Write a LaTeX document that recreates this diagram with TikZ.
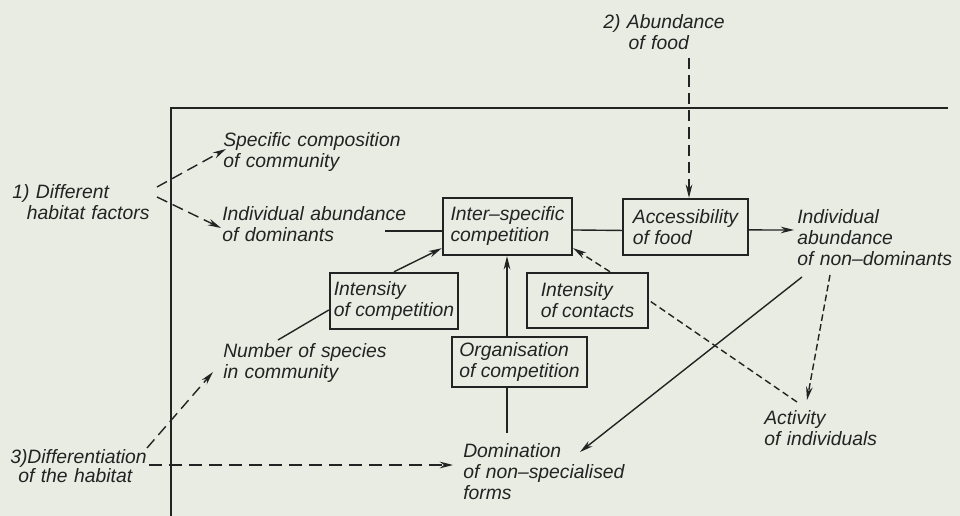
\documentclass[tikz,border=0pt]{standalone}
\usepackage{fontspec}
\setmainfont{Liberation Sans}
\usetikzlibrary{arrows.meta}
\definecolor{bgc}{HTML}{E8ECE2}
\definecolor{ink}{HTML}{232323}
\begin{document}
\begin{tikzpicture}[x=0.75pt,y=-0.75pt,
  lbl/.style={anchor=base west, inner sep=0pt, text width=200pt, align=left,
    font=\itshape\fontsize{14.5}{15.75}\selectfont, text=ink},
  box/.style={draw=ink, line width=1.8pt, align=left, inner sep=0pt,
    font=\itshape\fontsize{14.5}{15.75}\selectfont, text=ink},
  frame/.style={draw=ink, line width=1.2pt},
  con/.style={draw=ink, line width=1.05pt},
  tip/.style={-{Stealth[length=10pt,width=5pt]}},
  ldash/.style={dash pattern=on 8.5pt off 4.5pt},
  hdash/.style={dash pattern=on 10pt off 5pt},
  sdash/.style={dash pattern=on 5pt off 3pt},
  ndash/.style={dash pattern=on 5pt off 2.5pt},
]
\fill[bgc] (0,0) rectangle (960,516);
\useasboundingbox (0,0) rectangle (960,516);

% frame lines
\coordinate (tl) at (171,108);
\coordinate (tr) at (948,108);
\coordinate (bl) at (171,516);
\draw[frame] (tr) -- (tl) -- (bl);

% free texts
\node[lbl] (habit) at (12,199) {1) Different\\\hspace*{11pt}habitat factors};
\node[lbl] (spec) at (223,147) {Specific composition\\of community};
\node[lbl] (indd) at (222,221) {Individual abundance\\of dominants};
\node[lbl] (food) at (603,29) {2) Abundance\\\hspace*{19pt}of food};
\node[lbl] (nondom) at (797,224) {Individual\\abundance\\of non–dominants};
\node[lbl] (act) at (764,425) {Activity\\of individuals};
\node[lbl] (nsp) at (223,358) {Number of species\\in community};
\node[lbl] (diff) at (10,463) {3)Differentiation\\[-1pt]\hspace*{6pt}of the habitat};
\node[lbl] (dom) at (463,457) {Domination\\of non–specialised\\forms};

% boxes
\node[box, minimum width={129*0.75pt}, minimum height={57*0.75pt}] (inter) at (507.5,226.5) {Inter–specific\\competition};
\node[box, minimum width={125*0.75pt}, minimum height={56*0.75pt}] (acc) at (685.5,227) {Accessibility\\of food};
\node[box, minimum width={128*0.75pt}, minimum height={56*0.75pt}] (icomp) at (394,301) {Intensity\\of competition};
\node[box, minimum width={121*0.75pt}, minimum height={55*0.75pt}] (icont) at (587.5,300.5) {Intensity\\of contacts};
\node[box, minimum width={135*0.75pt}, minimum height={50*0.75pt}] (org) at (519.5,362) {Organisation\\of competition};

% connector end points
\coordinate (foodS) at (689,58);
\coordinate (h1) at (157,187);
\coordinate (h2) at (157,197);
\coordinate (specW) at (226,149);
\coordinate (inddW) at (221,228);
\coordinate (inddE) at (385,231);
\coordinate (nondomW) at (794,230);
\coordinate (nspN) at (278,340);
\coordinate (actN) at (797,402);
\coordinate (vx) at (507,0);
\coordinate (domN) at (507,433);
\coordinate (ndS1) at (802,277);
\coordinate (domE) at (580,452);
\coordinate (ndS2) at (830,275);
\coordinate (actT) at (807,400);
\coordinate (d1) at (147,448);
\coordinate (nspW) at (213,372);
\coordinate (d2) at (149,465);
\coordinate (domW) at (453,465);

% connectors
\draw[con,tip,ldash] (foodS) -- (foodS |- acc.north);
\draw[con,tip,ldash] (h1) -- (specW);
\draw[con,tip,ldash] (h2) -- (inddW);
\draw[con] (inddE) -- (inddE -| inter.west);
\draw[con] ([yshift=-2.6pt]inter.east) -- ([yshift=-2.6pt]acc.west);
\draw[con,tip] ([yshift=-2.2pt]acc.east) -- (nondomW);
\draw[con,tip] (icomp.north) -- ([yshift=6pt]inter.south west);
\draw[con] (nspN) -- ([yshift=-6.75pt]icomp.west);
\draw[con,tip,sdash] ([xshift=16.9pt]icont.north) -- ([yshift=6pt]inter.south east);
\draw[con,sdash] (actN) -- (icont.east);
\draw[con,tip] (vx |- org.north) -- (vx |- inter.south);
\draw[con] (domN) -- (domN |- org.south);
\draw[con,tip] (ndS1) -- (domE);
\draw[con,tip,ndash] (ndS2) -- (actT);
\draw[con,tip,ldash] (d1) -- (nspW);
\draw[con,tip,hdash] (d2) -- (domW);
\end{tikzpicture}
\end{document}
